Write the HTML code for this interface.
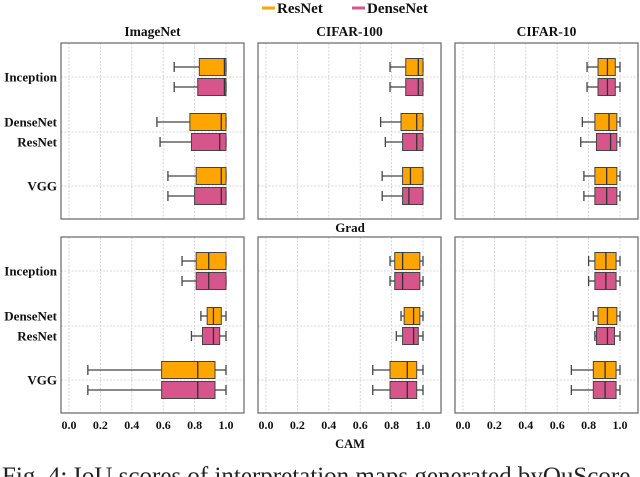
<!DOCTYPE html>
<html><head><meta charset="utf-8"><style>
body{margin:0;background:#fff;width:640px;height:477px;overflow:hidden}
svg{display:block;font-family:"Liberation Serif",serif}
</style></head><body>
<svg id="c" width="640" height="477"></svg>
<script>
const panelTitles=["ImageNet","CIFAR-100","CIFAR-10","","",""];
const categories=["Inception","DenseNet","VGG"];
const seriesNames=["ResNet","DenseNet"];
const tickLabels=["0.0","0.2","0.4","0.6","0.8","1.0"];
const tickValues=[0,0.2,0.4,0.6,0.8,1.0];
// per panel: [category][series] = [whiskerLow, q1, median, q3, whiskerHigh]
const p0=[[[0.67,0.83,0.99,1.0,1.0],[0.67,0.82,0.99,1.0,1.0]],[[0.56,0.77,0.97,1.0,1.0],[0.58,0.78,0.96,1.0,1.0]],[[0.63,0.81,0.97,1.0,1.0],[0.63,0.80,0.97,1.0,1.0]]];
const p1=[[[0.79,0.89,0.97,1.0,1.0],[0.79,0.89,0.97,1.0,1.0]],[[0.73,0.86,0.96,1.0,1.0],[0.76,0.87,0.96,1.0,1.0]],[[0.74,0.87,0.92,1.0,1.0],[0.74,0.87,0.91,1.0,1.0]]];
const p2=[[[0.79,0.86,0.92,0.97,1.0],[0.79,0.86,0.92,0.97,1.0]],[[0.76,0.84,0.93,0.98,1.0],[0.75,0.85,0.94,0.98,1.0]],[[0.77,0.84,0.915,0.98,1.0],[0.77,0.84,0.915,0.98,1.0]]];
const p3=[[[0.72,0.81,0.89,1.0,1.0],[0.72,0.81,0.89,1.0,1.0]],[[0.84,0.88,0.92,0.97,1.0],[0.78,0.85,0.92,0.96,1.0]],[[0.12,0.59,0.82,0.93,1.0],[0.12,0.59,0.82,0.93,1.0]]];
const p4=[[[0.79,0.82,0.87,0.98,1.0],[0.79,0.82,0.87,0.98,1.0]],[[0.86,0.88,0.94,0.98,1.0],[0.83,0.87,0.94,0.97,1.0]],[[0.68,0.79,0.90,0.96,1.0],[0.68,0.79,0.90,0.96,1.0]]];
const p5=[[[0.80,0.84,0.91,0.975,1.0],[0.80,0.84,0.91,0.975,1.0]],[[0.83,0.86,0.92,0.98,1.0],[0.84,0.85,0.92,0.965,1.0]],[[0.69,0.83,0.905,0.975,1.0],[0.69,0.83,0.905,0.975,1.0]]];
const panels=[p0,p1,p2,p3,p4,p5];

const NS="http://www.w3.org/2000/svg";
const svg=document.getElementById('c');
function mk(tag,attrs,parent,text){const e=document.createElementNS(NS,tag);for(const k in attrs)e.setAttribute(k,attrs[k]);if(text!==undefined)e.textContent=text;(parent||svg).appendChild(e);return e;}
const colors=["#FFA500","#D6558A"];
const PX=[61,258,455],PY=[43,237],PW=183,PH=176;
function xs(px,v){return px+8+v*157;}
const catOff=[34,89,143];
let lg=mk('g',{});


[[262,"ResNet",277],[352,"DenseNet",367]].forEach((l,i)=>{
  let ln=mk('line',{x1:l[0],x2:l[0]+13,y1:8,y2:8,stroke:colors[i],'stroke-width':3},lg);
  
  
  let t=mk('text',{x:l[2],y:13,'font-size':15,'font-weight':'bold',fill:'#111'},lg,seriesNames[i]);
  
  
});
panels.forEach((data,pi)=>{
  const px=PX[pi%3],py=PY[Math.floor(pi/3)];
  const g=mk('g',{});
  
  
  tickValues.forEach(v=>{mk('line',{x1:xs(px,v),x2:xs(px,v),y1:py,y2:py+PH,stroke:'#ccc','stroke-width':0.8,'stroke-dasharray':'2,1.5'},g);});
  catOff.forEach(o=>{mk('line',{x1:px,x2:px+PW,y1:py+o,y2:py+o,stroke:'#ccc','stroke-width':0.8,'stroke-dasharray':'2,1.5'},g);});
  if(panelTitles[pi]){const t=mk('text',{x:px+PW/2,y:py-7,'text-anchor':'middle','font-size':13.5,'font-weight':'bold',fill:'#111'},g,panelTitles[pi]);
    
    }
  data.forEach((cat,ci)=>{
    cat.forEach((s,si)=>{
      const cy=py+catOff[ci]+(si===0?-10:10),h=17;
      const b=mk('g',{},g);
      
      
      mk('line',{x1:xs(px,s[0]),x2:xs(px,s[1]),y1:cy,y2:cy,stroke:'#444','stroke-width':1.3},b);
      mk('line',{x1:xs(px,s[0]),x2:xs(px,s[0]),y1:cy-5,y2:cy+5,stroke:'#444','stroke-width':1.3},b);
      mk('line',{x1:xs(px,s[3]),x2:xs(px,s[4]),y1:cy,y2:cy,stroke:'#444','stroke-width':1.3},b);
      mk('line',{x1:xs(px,s[4]),x2:xs(px,s[4]),y1:cy-5,y2:cy+5,stroke:'#444','stroke-width':1.3},b);
      mk('rect',{x:xs(px,s[1]),y:cy-h/2,width:Math.max(0.5,xs(px,s[3])-xs(px,s[1])),height:h,fill:colors[si],stroke:'#444','stroke-width':1},b);
      mk('line',{x1:xs(px,s[2]),x2:xs(px,s[2]),y1:cy-h/2,y2:cy+h/2,stroke:'#333','stroke-width':1.3},b);
    });
  });
  mk('rect',{x:px,y:py,width:PW,height:PH,fill:'none',stroke:'#666','stroke-width':1.2},g);
  if(pi%3===0){
    const labs=[["Inception",catOff[0]],["DenseNet",catOff[1]-10],["ResNet",catOff[1]+10],["VGG",catOff[2]]];
    labs.forEach(l=>{const t=mk('text',{x:57,y:py+l[1]+4.5,'text-anchor':'end','font-size':13,'font-weight':'bold',fill:'#111'},g,l[0]);
      
      });
  }
  if(pi>=3){
    tickValues.forEach((v,ti)=>{const t=mk('text',{x:xs(px,v),y:py+PH+16,'text-anchor':'middle','font-size':12,'font-weight':'bold',fill:'#111'},g,tickLabels[ti]);
      
      });
  }
});
let gt=mk('text',{x:350,y:232,'text-anchor':'middle','font-size':13,'font-weight':'bold',fill:'#111'},svg,"Grad");


let xt=mk('text',{x:350,y:448,'text-anchor':'middle','font-size':12.5,'font-weight':'bold',fill:'#111'},svg,"CAM");


let cap=mk('text',{x:2,y:484,'font-size':25,fill:'#222'},svg,"Fig. 4: IoU scores of interpretation maps generated byQuScore");


</script>
</body></html>
